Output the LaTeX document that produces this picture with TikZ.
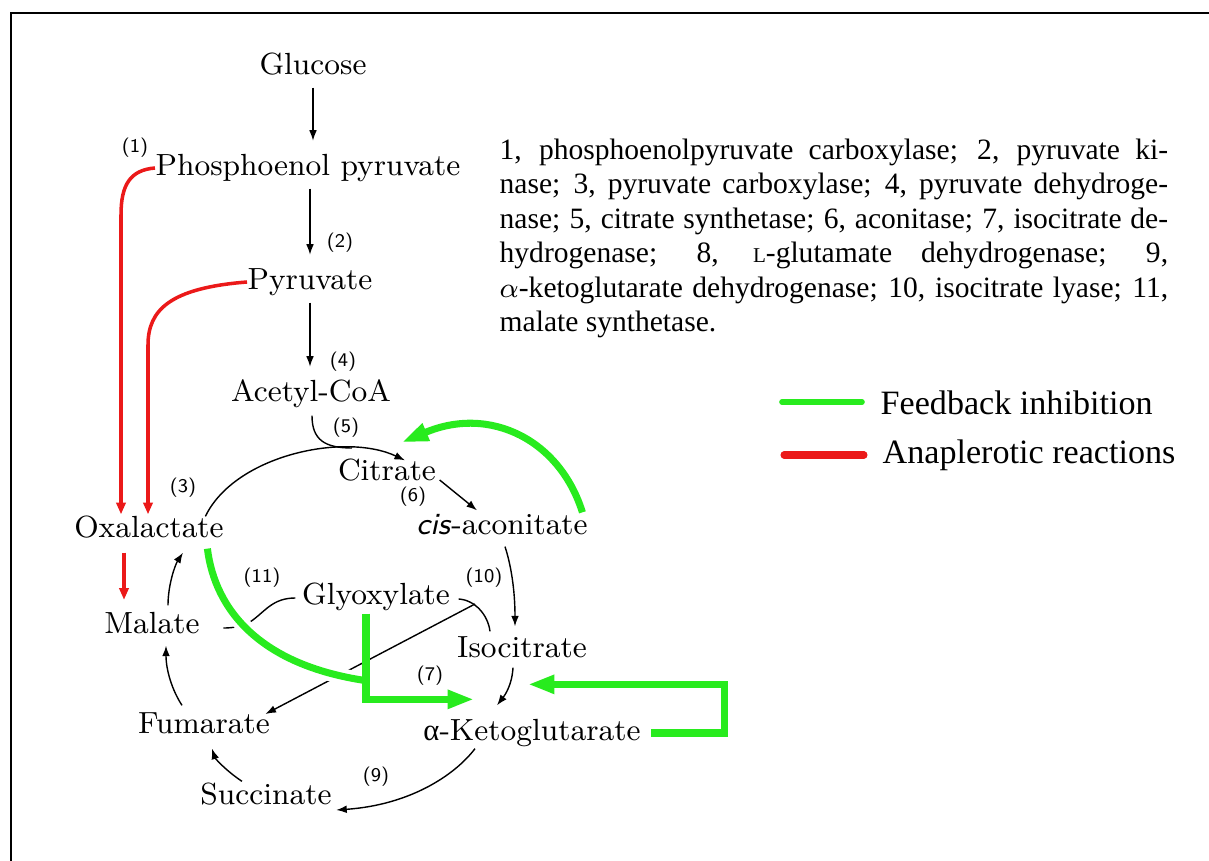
\documentclass[tikz,border=0pt]{standalone}
\usepackage{fontspec}
\usepackage{tikz}
\usetikzlibrary{arrows.meta,calc}
\newfontfamily\legfont{Liberation Serif}
\definecolor{fbgreen}{RGB}{40,235,30}
\definecolor{anred}{RGB}{235,25,25}

\begin{document}
\begin{tikzpicture}[x=0.01cm, y=-0.01cm, % 1単位 = 元画像の1px、yは下向き
  met/.style={inner sep=0pt, text height=6.5pt, text depth=2pt, font=\fontsize{8.7}{10}\selectfont}, % 代謝物
  num/.style={inner sep=0pt, font=\sffamily\fontsize{5.5}{6}\selectfont}, % 酵素番号
  arr/.style={thin, -{Latex[length=3pt,width=2.2pt]}},
  vstep/.style={arr, shorten <=1.4pt, shorten >=3.3pt},
  ana/.style={anred, line width=1pt, -{Triangle[length=3.3pt,width=2.6pt]}}, % 補充反応
  fb/.style={fbgreen, line width=2pt, -{Triangle[length=7.5pt,width=5pt]}}, % フィードバック阻害
  halo/.style={preaction={draw=white, line width=4.5pt, -}}]
  \useasboundingbox (0,0) rectangle (1209,861);
  \draw[line width=0.8pt] (11,861) -- (11,13) -- (1209,13); % 枠

  \node[met] (glc) at (313,67) {Glucose};
  \node[met] (pep) at (308,168) {Phosphoenol pyruvate};
  \node[met] (pyr) at (310,282) {Pyruvate};
  \node[met] (acoa) at (311,394) {Acetyl-CoA};
  \node[met] (cit) at (387,473) {Citrate};
  \node[met] (cis) at (502,527) {\textsf{\textit{cis}}-aconitate};
  \node[met] (oaa) at (149,530) {Oxalactate};
  \node[met] (mal) at (152,626) {Malate};
  \node[met] (gly) at (376,597) {Glyoxylate};
  \node[met] (iso) at (522,650) {Isocitrate};
  \node[met] (akg) at (532,733) {{\legfont α}-Ketoglutarate};
  \node[met] (fum) at (204,726) {Fumarate};
  \node[met] (suc) at (266,797) {Succinate};

  \node[num] (n1) at (135,148) {(1)};
  \node[num] (n2) at (340,243) {(2)};
  \node[num] (n3) at (183,488) {(3)};
  \node[num] (n4) at (343,362) {(4)};
  \node[num] (n5) at (346,428) {(5)};
  \node[num] (n6) at (413,497) {(6)};
  \node[num] (n7) at (430,676) {(7)};
  \node[num] (n9) at (376,777) {(9)};
  \node[num] (n10) at (484,578) {(10)};
  \node[num] (n11) at (262,578) {(11)};

  % 解糖系
  \draw[vstep] (glc.south) -- (glc.south |- pep.north);
  \draw[vstep] (pyr.north |- pep.south) -- (pyr.north);
  \draw[vstep] (pyr.south) -- (pyr.south |- acoa.north);

  % TCA回路
  \draw[arr] ($(oaa.north east)+(-19,2)$) .. controls (235,455) and (345,432) .. ($(cit.north)+(18,3)$);
  \draw[thin] ($(acoa.south)+(1,6)$) .. controls (312,440) and (325,448) .. (352,448);
  \draw[arr] ($(cit.east)+(3,7)$) -- ($(cis.north)+(-25,-1)$);
  \draw[arr] ($(cis.south)+(3,4)$) .. controls (511,565) and (515,590) .. ($(iso.north)+(-7,-8)$);
  \draw[arr] ($(iso.south)+(-9,2)$) .. controls (512,685) and (505,695) .. ($(akg.north)+(-35,-12)$);
  \draw[arr] ($(akg.south)+(-57,0)$) .. controls (455,775) and (410,805) .. ($(suc.east)+(4,13)$);
  \draw[arr] ($(suc.north)+(-24,0)$) .. controls (225,770) and (215,758) .. ($(fum.south)+(8,7)$);
  \draw[arr] ($(fum.north)+(-22,-5)$) .. controls (172,690) and (166,670) .. ($(mal.south)+(14,4)$);
  \draw[arr] ($(mal.north)+(16,-5)$) .. controls (168,585) and (175,565) .. ($(oaa.south)+(34,7)$);

  % グリオキシル酸回路
  \draw[thin] ($(gly.west)+(-6,1)$) .. controls (272,598) and (265,612) .. (250,622) .. controls (240,627) and (232,628) .. ($(mal.east)+(23,2)$);
  \draw[thin] ($(iso.north)+(-32,-3)$) .. controls (488,615) and (475,600) .. ($(gly.east)+(8,2)$);
  \coordinate (lyase) at (475,604);
  \draw[arr] (lyase) -- ($(fum.east)+(-5,-12)$);

  % 補充反応
  \draw[ana] (pep.west) .. controls (130,170) and (121,185) .. (121,215) -- ($(oaa.north)+(-28,0)$);
  \draw[ana] (pyr.west) .. controls (170,288) and (148,310) .. (148,345) -- ($(oaa.north)+(-1,0)$);
  \draw[ana, shorten <=2pt, shorten >=3pt] ($(oaa.south)+(-25,0)$) -- ($(mal.north)+(-28,0)$);

  % フィードバック阻害
  \draw[fb] ($(cis.north east)+(-6,1)$) .. controls (560,440) and (490,405) .. ($(cit.north)+(15,-15)$);
  \draw[fbgreen, line width=2pt, halo] ($(oaa.south east)+(-17,3)$) .. controls (215,610) and (260,665) .. ($(gly.south)+(-10,68)$);
  \draw[fb] ($(gly.south)+(-10,1)$) |- ($(akg.north)+(-58,-18)$);
  \draw[fb] ($(akg.east)+(10,0)$) -- ++(73,0) |- ($(akg.north)+(-4,-33)$);

  % 酵素の説明
  \node[anchor=north west, inner sep=0pt, text width=6.68cm, align=justify, font=\legfont\fontsize{8.4}{9.8}\selectfont] (enz) at (499,138) {1, phosphoenolpyruvate carboxylase; 2, pyruvate ki-\linebreak nase; 3, pyruvate carboxylase; 4, pyruvate dehydroge-\linebreak nase; 5, citrate synthetase; 6, aconitase; 7, isocitrate de-\linebreak hydrogenase; 8, {\fontsize{6}{7}\selectfont L}-glutamate dehydrogenase; 9,\linebreak $\alpha$-ketoglutarate dehydrogenase; 10, isocitrate lyase; 11,\linebreak malate synthetase.};

  % 凡例
  \node[anchor=west, inner sep=0pt, font=\legfont\fontsize{9.7}{11}\selectfont] (leg1) at (880,403) {Feedback inhibition};
  \node[anchor=west, inner sep=0pt, font=\legfont\fontsize{9.7}{11}\selectfont] (leg2) at (882,455) {Anaplerotic reactions};
  \draw[fbgreen, line width=1.6pt, line cap=round] ($(leg1.west)+(-98,-1)$) -- ($(leg1.west)+(-18,-1)$);
  \draw[anred, line width=2pt, line cap=round] ($(leg2.west)+(-98,0)$) -- ($(leg2.west)+(-18,0)$);
\end{tikzpicture}
\end{document}
